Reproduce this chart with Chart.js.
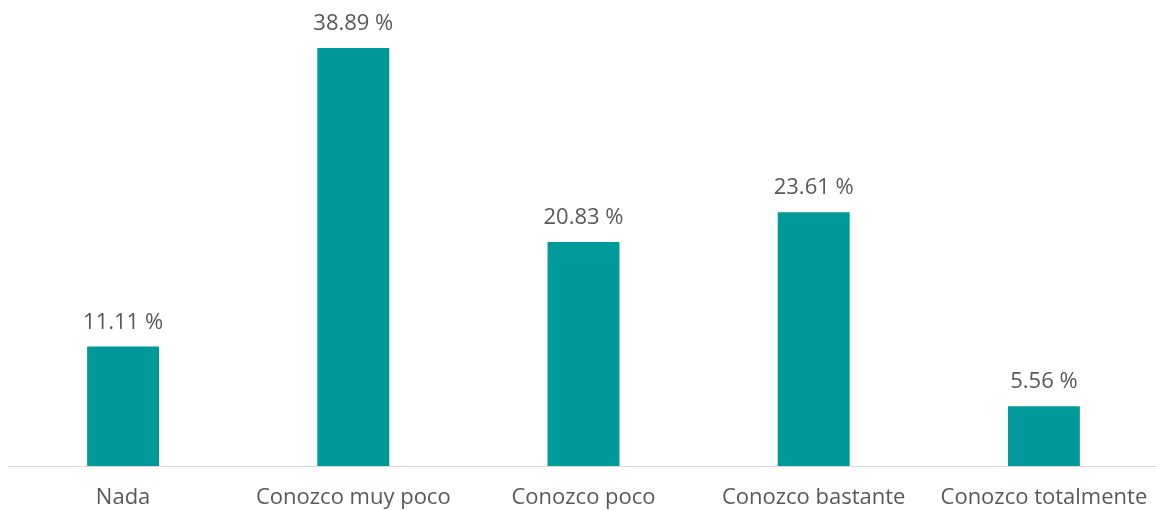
<!DOCTYPE html>
<html>
<head>
<meta charset="utf-8">
<script src="https://cdn.jsdelivr.net/npm/chart.js@4/dist/chart.umd.min.js"></script>
<style>
  html, body { margin: 0; padding: 0; background: #fff; overflow: hidden; }
  #wrap { width: 1160px; height: 510px; }
</style>
</head>
<body>
<div id="wrap"><canvas id="barChart"></canvas></div>
<script>
const categories = ["Nada", "Conozco muy poco", "Conozco poco", "Conozco bastante", "Conozco totalmente"];
const percentages = [11.11, 38.89, 20.83, 23.61, 5.56];

const barColor = "#009999";
const textColor = "#595959";
const fontFamily = "'Open Sans', 'Noto Sans', sans-serif";

// draws the "xx.xx %" labels above each bar
const valueLabels = {
  id: 'valueLabels',
  afterDatasetsDraw(chart) {
    const ctx = chart.ctx;
    const meta = chart.getDatasetMeta(0);
    ctx.save();
    ctx.fillStyle = textColor;
    ctx.font = "22px " + fontFamily;
    ctx.textAlign = "center";
    ctx.textBaseline = "alphabetic";
    meta.data.forEach((bar, i) => {
      const txt = percentages[i].toFixed(2) + " %";
      ctx.fillText(txt, bar.x, bar.y - 18);
    });
    ctx.restore();
  }
};

const ctx = document.getElementById('barChart').getContext('2d');
let barChart = new Chart(ctx, {
  type: 'bar',
  data: {
    labels: categories,
    datasets: [{
      data: percentages,
      backgroundColor: barColor,
      borderWidth: 0,
      barPercentage: 0.625,
      categoryPercentage: 0.5
    }]
  },
  options: {
    responsive: true,
    maintainAspectRatio: false,
    animation: false,
    layout: { padding: { top: 36, left: 8, right: 1, bottom: 0 } },
    plugins: {
      legend: { display: false },
      tooltip: { enabled: false }
    },
    scales: {
      x: {
        grid: { display: false },
        border: { display: true, color: "#d9d9d9", width: 1 },
        ticks: {
          color: textColor,
          font: { family: fontFamily, size: 22 },
          padding: 11,
          maxRotation: 0,
          autoSkip: false
        },
        afterFit(scale) { scale.height = 44; }
      },
      y: {
        display: false,
        min: 0,
        max: 40
      }
    }
  },
  plugins: [valueLabels]
});
</script>
</body>
</html>
